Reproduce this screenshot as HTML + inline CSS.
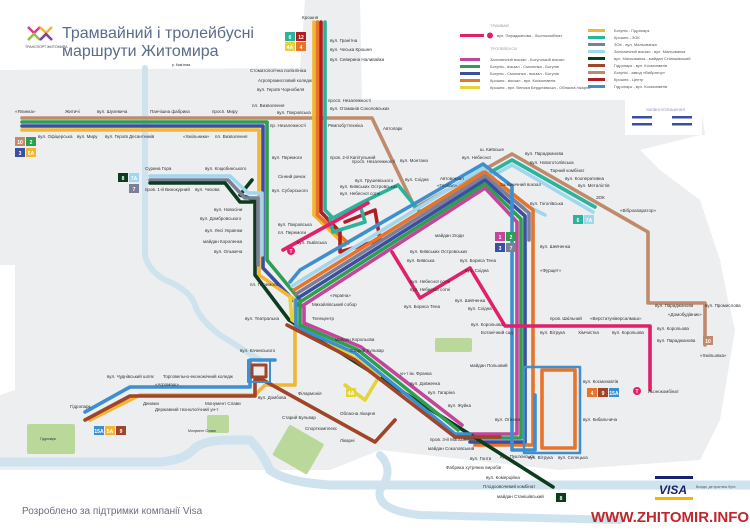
<!DOCTYPE html>
<html><head><meta charset="utf-8"><style>
html,body{margin:0;padding:0;background:#fff;}
svg{display:block;font-family:"Liberation Sans","Noto Sans CJK SC",sans-serif;}
.t{font-size:4.5px;fill:#333;}
</style></head><body>
<svg width="750" height="530" viewBox="0 0 750 530" xmlns="http://www.w3.org/2000/svg">
<!-- city area -->
<polygon fill="#eceef0" points="0,70 300,68 305,0 360,0 362,100 420,100 700,100 705,135 700,135 640,150 660,170 700,200 720,260 728,300 735,330 720,420 700,460 560,470 380,450 330,470 0,470 0,395 15,390 15,265 0,265"/>
<polygon fill="#fff" points="625,100 702,100 702,135 625,135"/>
<!-- rivers -->
<g fill="none" stroke="#cfe3ef" stroke-linecap="round">
<path d="M145,68 L145,255 Q148,270 165,280 Q190,290 195,305 Q200,320 220,335 L260,360" stroke-width="6"/>
<path d="M0,462 L160,462 Q185,460 195,448 Q205,440 230,440 L250,440 Q262,452 270,470 Q285,482 330,485 L750,485" stroke-width="9"/>
<path d="M380,455 Q395,470 380,490 Q375,510 420,515 L620,520" stroke-width="8"/>
</g>
<!-- parks -->
<rect x="27" y="424" width="48" height="30" rx="2" fill="#b9d89a"/>
<rect x="207" y="415" width="22" height="18" rx="2" fill="#b9d89a"/>
<rect x="278" y="432" width="40" height="35" rx="2" fill="#b9d89a" transform="rotate(30 298 450)"/>
<rect x="435" y="338" width="37" height="14" rx="2" fill="#b9d89a"/>

<!-- title -->
<text x="62" y="38" font-size="16" fill="#5b6b8c">Трамвайний і тролейбусні</text>
<text x="62" y="56" font-size="16" fill="#5b6b8c">маршрути Житомира</text>
<g fill="none" stroke-width="2.5"><path d="M28,27 l6,6 l6,-6" stroke="#e0368a"/><path d="M40,27 l6,6 l6,-6" stroke="#f2b632"/><path d="M28,40 l6,-6 l6,6" stroke="#8bc34a"/><path d="M40,40 l6,-6 l6,6" stroke="#7b3fa0"/></g>
<text x="25" y="48" font-size="3.5" fill="#445">ТРАНСПОРТ ЖИТОМИРА</text>

<!-- legend -->
<g font-size="4" fill="#555">
<text x="490" y="27" fill="#99a">ТРАМВАЙ</text>
<rect x="460" y="34" width="24" height="3" fill="#e0206a"/><circle cx="490" cy="35.5" r="3" fill="#e0206a"/><text x="497" y="37">вул. Параджанова - Льонокомбінат</text>
<text x="490" y="50" fill="#99a">ТРОЛЕЙБУСИ</text>
<rect x="460" y="58" width="20" height="3" fill="#c2479b"/><text x="490" y="61">Залізничний вокзал - Богунський вокзал</text>
<rect x="460" y="65" width="20" height="3" fill="#2e9e4f"/><text x="490" y="68">Богунія - вокзал - Смолянка - Богунія</text>
<rect x="460" y="72" width="20" height="3" fill="#3b4fa0"/><text x="490" y="75">Богунія - Смолянка - вокзал - Богунія</text>
<rect x="460" y="79" width="20" height="3" fill="#e8732a"/><text x="490" y="82">Крошня - вокзал - вул. Космонавтів</text>
<rect x="460" y="86" width="20" height="3" fill="#e3d43a"/><text x="490" y="89">Крошня - вул. Велика Бердичівська - Обласна лікарня</text>
<rect x="588" y="29" width="17" height="3" fill="#f2b632"/><text x="614" y="32">Богунія - Гідропарк</text>
<rect x="588" y="36" width="17" height="3" fill="#2bb39b"/><text x="614" y="39">Крошня - ЗОК</text>
<rect x="588" y="43" width="17" height="3" fill="#7c7f99"/><text x="614" y="46">ЗОК - вул. Мальованка</text>
<rect x="588" y="50" width="17" height="3" fill="#9fd7ef"/><text x="614" y="53">Залізничний вокзал - вул. Мальованка</text>
<rect x="588" y="57" width="17" height="3" fill="#0d3b1e"/><text x="614" y="60">вул. Мальованка - майдан Станішівський</text>
<rect x="588" y="64" width="17" height="3" fill="#a0442a"/><text x="614" y="67">Гідропарк - вул. Космонавтів</text>
<rect x="588" y="71" width="17" height="3" fill="#c08b6d"/><text x="614" y="74">Богунія - завод «Вибратор»</text>
<rect x="588" y="78" width="17" height="3" fill="#b01e24"/><text x="614" y="81">Крошня - Центр</text>
<rect x="588" y="85" width="17" height="3" fill="#3d8fd0"/><text x="614" y="88">Гідропарк - вул. Космонавтів</text>
<rect x="626" y="103" width="76" height="32" fill="#fff"/>
<text x="646" y="111" fill="#88a" font-size="3.5">УМОВНІ ПОЗНАЧЕННЯ</text>
<rect x="632" y="116" width="20" height="2.5" fill="#3b4fa0"/><rect x="672" y="116" width="20" height="2.5" fill="#3b4fa0"/>
<rect x="632" y="123" width="20" height="2.5" fill="#3b4fa0"/><rect x="672" y="123" width="20" height="2.5" fill="#3b4fa0"/>
</g>

<g fill="none" stroke-width="3.6" stroke-linejoin="round" stroke-linecap="round">
<!-- tan 10 -->
<polyline stroke="#c08b6d" points="22,118 372,118 415,208 512,154 648,232 648,303 705,303 705,345"/>
<!-- teal / light blue to ZOK -->
<polyline stroke="#2bb39b" points="325,22 325,210 333,218 363,202 398,185 420,212 512,160 595,207"/>
<polyline stroke="#9fd7ef" points="430,210 512,165 593,212"/>
<!-- west horizontal -->
<polyline stroke="#2e9e4f" points="22,122 267,122 267,260 300,300"/>
<polyline stroke="#3b4fa0" points="22,126 263,126 263,268 298,305"/>
<polyline stroke="#f2b632" points="22,130 259,130 259,275 295,300 295,385 265,385 255,395 140,395 90,420"/>
<!-- Kroshnia verticals -->
<polyline stroke="#f2b632" points="314,22 314,215 345,245"/>
<polyline stroke="#e8732a" points="317.5,22 317.5,215 348,243"/>
<polyline stroke="#b01e24" points="321,22 321,212 340,232 340,252 380,240 375,210 345,222"/>
<polyline stroke="#2bb39b" points="330,218 333,232 365,222 360,205"/>
<!-- NE bundle to station -->
<polyline stroke="#9fd7ef" points="292,286 483,168 515,200 545,215"/>
<polyline stroke="#e8732a" points="294,290 485,172 533,210 533,445 475,445"/>
<polyline stroke="#7c7f99" points="296,294 485,176 529,213 529,240"/>
<polyline stroke="#3b4fa0" points="298,298 485,180 525,216 525,442 470,442"/>
<polyline stroke="#2e9e4f" points="300,302 485,184 521,219 521,438 465,438"/>
<polyline stroke="#c2479b" points="302,306 485,188 517,222 517,434 470,434"/>
<polyline stroke="#3d8fd0" points="290,282 300,270 483,164 512,186 512,450 535,450 535,395"/>
<!-- SE bundle -->
<polyline stroke="#0d3b1e" points="252,180 240,195 255,200 255,275 289,320 553,487"/>
<polyline stroke="#7c7f99" points="150,180 228,180 245,198 258,198 258,265"/>
<polyline stroke="#9fd7ef" points="150,176 230,176 248,193 262,193 262,255"/>
<polyline stroke="#0d3b1e" points="150,183 225,183 240,202 252,202"/>
<polyline stroke="#e3d43a" points="290,298 292,320 350,355 380,375 365,400 345,385"/>
<polyline stroke="#3d8fd0" points="296,300 296,327 355,353 455,434 470,434"/>
<polyline stroke="#2e9e4f" points="300,303 300,325 358,350 458,430"/>
<polyline stroke="#c2479b" points="304,307 304,323 361,347 462,425"/>
<polyline stroke="#a0442a" points="287,325 355,360 455,437 500,437"/>
<!-- bottom-left -->
<polyline stroke="#3d8fd0" points="85,412 130,387 250,387 250,360 275,360"/>
<polyline stroke="#a0442a" points="85,420 130,396 255,396 255,380 263,380 375,442 395,420"/>
<polyline stroke="#e8732a" points="542,370 575,370 575,448 542,448 542,370"/>
<rect x="252" y="365" width="14" height="12" stroke="#a0442a" stroke-width="3"/>
<rect x="248" y="360" width="22" height="22" stroke="#3d8fd0" stroke-width="2"/>
<rect x="524" y="367" width="56" height="86" stroke="#3d8fd0" stroke-width="2.5"/>
<!-- pink tram -->
<polyline stroke="#e0206a" points="283,250 368,203"/>
<polyline stroke="#e0206a" points="392,252 420,298 470,268 505,326 650,326 650,390"/>
</g>

<!-- route badges -->
<g font-size="5" font-weight="bold" fill="#fff" text-anchor="middle">
<rect x="285" y="32" width="10" height="9" fill="#2bb39b"/><text x="290" y="39">6</text>
<rect x="296" y="32" width="10" height="9" fill="#b01e24"/><text x="301" y="39">12</text>
<rect x="285" y="42" width="10" height="9" fill="#e3d43a"/><text x="290" y="49">4A</text>
<rect x="296" y="42" width="10" height="9" fill="#e8732a"/><text x="301" y="49">4</text>
<rect x="15" y="137" width="10" height="9" fill="#c08b6d"/><text x="20" y="144">10</text>
<rect x="26" y="137" width="10" height="9" fill="#2e9e4f"/><text x="31" y="144">2</text>
<rect x="15" y="148" width="10" height="9" fill="#3b4fa0"/><text x="20" y="155">3</text>
<rect x="26" y="148" width="10" height="9" fill="#f2b632"/><text x="31" y="155">5A</text>
<rect x="118" y="173" width="10" height="9" fill="#0d3b1e"/><text x="123" y="180">8</text>
<rect x="129" y="173" width="10" height="9" fill="#9fd7ef"/><text x="134" y="180">7A</text>
<rect x="129" y="184" width="10" height="9" fill="#7c7f99"/><text x="134" y="191">7</text>
<rect x="495" y="232" width="10" height="9" fill="#c2479b"/><text x="500" y="239">1</text>
<rect x="506" y="232" width="10" height="9" fill="#2e9e4f"/><text x="511" y="239">2</text>
<rect x="495" y="243" width="10" height="9" fill="#3b4fa0"/><text x="500" y="250">3</text>
<rect x="506" y="243" width="10" height="9" fill="#7c7f99"/><text x="511" y="250">7</text>
<rect x="573" y="215" width="10" height="9" fill="#2bb39b"/><text x="578" y="222">6</text>
<rect x="584" y="215" width="10" height="9" fill="#9fd7ef"/><text x="589" y="222">7A</text>
<rect x="703" y="336" width="10" height="9" fill="#c08b6d"/><text x="708" y="343">10</text>
<rect x="587" y="388" width="10" height="9" fill="#e8732a"/><text x="592" y="395">4</text>
<rect x="598" y="388" width="10" height="9" fill="#a0442a"/><text x="603" y="395">9</text>
<rect x="609" y="388" width="10" height="9" fill="#3d8fd0"/><text x="614" y="395">15A</text>
<rect x="94" y="426" width="10" height="9" fill="#3d8fd0"/><text x="99" y="433">15A</text>
<rect x="105" y="426" width="10" height="9" fill="#f2b632"/><text x="110" y="433">5A</text>
<rect x="116" y="426" width="10" height="9" fill="#a0442a"/><text x="121" y="433">9</text>
<rect x="346" y="388" width="10" height="9" fill="#e3d43a"/><text x="351" y="395">4A</text>
<rect x="556" y="493" width="10" height="9" fill="#0d3b1e"/><text x="561" y="500">8</text>
<circle cx="291" cy="251" r="4" fill="#e0206a"/><text x="291" y="253">T</text>
<circle cx="637" cy="391" r="4" fill="#e0206a"/><text x="637" y="393">T</text>
</g>

<!-- labels -->
<g class="t">
<text x="302" y="19">Крошня</text>
<text x="330" y="42">вул. Гранітна</text><text x="330" y="51">вул. Чеська Крошня</text><text x="330" y="61">вул. Северина Наливайка</text>
<text x="250" y="72">Стоматологічна поліклініка</text><text x="258" y="82">Агропромисловий коледж</text><text x="257" y="91">вул. Героїв Чорнобиля</text>
<text x="328" y="102">просп. Незалежності</text><text x="330" y="110">вул. Отаманів Соколовських</text>
<text x="15" y="113">«Ялинка»</text><text x="65" y="113">Житичі</text><text x="97" y="113">вул. Шухевича</text><text x="150" y="113">Панчішна фабрика</text><text x="212" y="113">просп. Миру</text>
<text x="252" y="107">пл. Визволення</text><text x="277" y="114">вул. Покровська</text><text x="270" y="127">пр. Незалежності</text><text x="328" y="127">Ремпобуттехніка</text><text x="383" y="130">Автопарк</text>
<text x="38" y="138">вул. Офіцерська</text><text x="77" y="138">вул. Миру</text><text x="105" y="138">вул. Героїв Десантників</text><text x="183" y="138">«Хмільники»</text><text x="215" y="138">пл. Визволення</text>
<text x="272" y="159">вул. Перемоги</text><text x="330" y="159">пров. 2-й Капітульний</text><text x="278" y="178">Сінний ринок</text><text x="272" y="192">вул. Суборського</text>
<text x="145" y="170">Сурина Гора</text><text x="205" y="170">вул. Коцюбинського</text><text x="145" y="191">пров. 1-й Винокурний</text><text x="195" y="191">вул. Чехова</text>
<text x="214" y="211">вул. Новосіни</text><text x="200" y="220">вул. Домбровського</text><text x="205" y="232">вул. Лесі Українки</text><text x="203" y="243">майдан Короленка</text><text x="214" y="253">вул. Ольжича</text>
<text x="278" y="226">вул. Покровська</text><text x="278" y="234">пл. Перемоги</text><text x="297" y="244">вул. Львівська</text>
<text x="250" y="286">пл. Перемоги</text><text x="245" y="320">вул. Театральна</text><text x="240" y="352">вул. Качинського</text>
<text x="312" y="320">Телецентр</text><text x="312" y="306">Михайлівський собор</text><text x="330" y="297">«Україна»</text>
<text x="335" y="341">майдан Корольова</text><text x="350" y="352">Старий Бульвар</text>
<text x="107" y="378">вул. Чуднівський шлях</text><text x="163" y="378">Торговельно-економічний коледж</text><text x="155" y="386">«Агромаш»</text>
<text x="143" y="405">Динамо</text><text x="155" y="411">Державний технологічний ун-т</text><text x="205" y="405">Монумент Слави</text><text x="258" y="399">вул. Домбова</text>
<text x="70" y="408">Гідропарк</text><text x="298" y="395">Філармонія</text><text x="282" y="419">Старий Бульвар</text><text x="305" y="430">Спорткомплекс</text><text x="340" y="442">Лікарні</text><text x="340" y="415">Обласна лікарня</text>
<text x="400" y="375">ун-т ім. Франка</text><text x="410" y="385">вул. Довженка</text><text x="428" y="394">вул. Гагаріна</text><text x="448" y="407">вул. Жуйка</text><text x="495" y="421">вул. Огієнка</text>
<text x="430" y="441">пров. 3-й Магазинний</text><text x="428" y="450">майдан Соколовський</text><text x="470" y="460">вул. Гонти</text><text x="446" y="469">Фабрика хутряних виробів</text><text x="486" y="479">вул. Комерційна</text><text x="483" y="488">Плодоовочевий комбінат</text><text x="497" y="498">майдан Станішівський</text>
<text x="500" y="458">вул. Пуш'кінська</text><text x="528" y="459">вул. Вітрука</text><text x="558" y="459">вул. Селецька</text>
<text x="583" y="383">вул. Космонавтів</text><text x="583" y="421">вул. Кибальчича</text><text x="470" y="367">майдан Польовий</text>
<text x="481" y="334">Ботанічний сад</text><text x="471" y="326">вул. Корольова</text><text x="550" y="320">пров. Шкільний</text><text x="590" y="320">«Верстатуніверсалмаш»</text>
<text x="540" y="334">вул. Вітрука</text><text x="578" y="334">Хімчистка</text><text x="612" y="334">вул. Корольова</text>
<text x="655" y="307">вул. Параджанова</text><text x="705" y="307">вул. Промислова</text><text x="668" y="316">«Домобудівник»</text><text x="657" y="330">вул. Корольова</text><text x="657" y="342">вул. Параджанова</text>
<text x="700" y="357">«Хмільовка»</text><text x="648" y="393">Льонокомбінат</text>
<text x="525" y="155">вул. Параджанова</text><text x="530" y="164">вул. Новоготолівська</text><text x="550" y="172">Тарний комбінат</text><text x="565" y="180">вул. Кооперативна</text><text x="578" y="187">вул. Металістів</text><text x="596" y="199">ЗОК</text><text x="620" y="212">«Віброапаратор»</text>
<text x="480" y="151">ш. Київське</text><text x="462" y="159">вул. Небесної</text><text x="400" y="162">вул. Монтана</text><text x="405" y="181">вул. Східна</text><text x="440" y="180">Автовокзал</text><text x="437" y="187">«Глобал»</text>
<text x="500" y="186">Залізничний вокзал</text><text x="530" y="205">вул. Гоголівська</text><text x="540" y="248">вул. Шевченка</text><text x="540" y="272">«Фурщет»</text>
<text x="435" y="237">майдан Згоди</text><text x="410" y="253">вул. Київських Островських</text><text x="407" y="262">вул. Київська</text><text x="460" y="262">вул. Бориса Тена</text><text x="465" y="272">вул. Східна</text>
<text x="410" y="283">вул. Небесної сотні</text><text x="410" y="291">вул. Небесної сотні</text><text x="404" y="308">вул. Бориса Тена</text><text x="455" y="302">вул. Шевченка</text><text x="468" y="310">вул. Східна</text>
<text x="352" y="163">просп. Незалежності</text><text x="355" y="182">вул. Грушевського</text><text x="340" y="188">вул. Київських Островських</text><text x="340" y="195">вул. Небесної сотні</text>
<text x="188" y="432" font-size="3.5">Монумент Слави</text><text x="40" y="440" font-size="3.5">Гідропарк</text><text x="172" y="66" font-size="3.5">р. Кам'янка</text>
</g>

<text x="22" y="514" font-size="10" fill="#6a7080">Розроблено за підтримки компанії Visa</text>
<rect x="655" y="476" width="38" height="3" fill="#1a1f71"/>
<text x="659" y="494" font-size="12" font-weight="bold" font-style="italic" fill="#1a1f71">VISA</text>
<rect x="655" y="497" width="38" height="3" fill="#f7b600"/>
<text x="696" y="488" font-size="3.5" fill="#555">Всюди, де прагнеш бути</text>
<text x="591" y="522" font-size="15" font-weight="bold" fill="#c0272d">WWW.ZHITOMIR.INFO</text>
</svg>
</body></html>
